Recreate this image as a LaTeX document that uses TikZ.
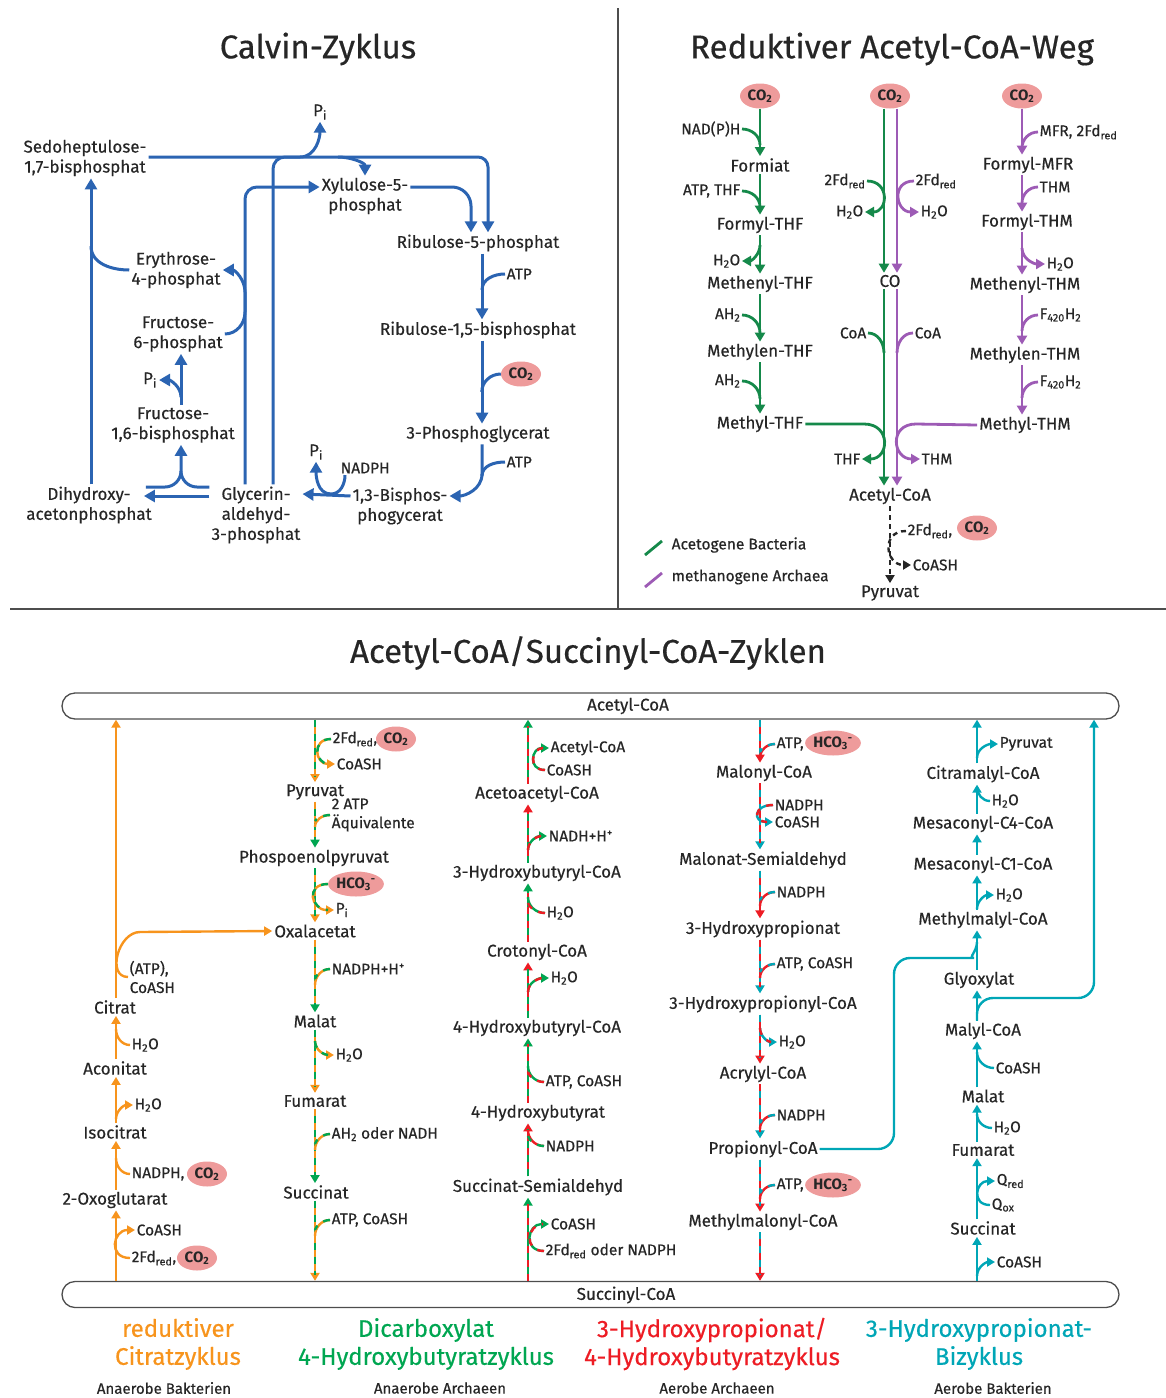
\documentclass[tikz,border=0pt]{standalone}
\usepackage{fontspec}
\setmainfont{Fira Sans}[UprightFeatures={FakeBold=0.45}]
\usetikzlibrary{arrows.meta,shapes.geometric,calc}

\definecolor{calvinblue}{HTML}{2B64B2}
\definecolor{acgreen}{HTML}{15894A}
\definecolor{acpurple}{HTML}{9D5BB5}
\definecolor{cotwopink}{HTML}{EE9B9B}
\definecolor{cycorange}{HTML}{F7941D}
\definecolor{cycgreen}{HTML}{00A651}
\definecolor{cycred}{HTML}{ED1C24}
\definecolor{cyccyan}{HTML}{00A6B6}
\definecolor{framegray}{HTML}{4D4D4D}

\tikzset{
  met/.style={font=\fontsize{17}{20}\selectfont, align=center, inner sep=2pt, text=black!85},
  bmet/.style={font=\fontsize{17}{20}\selectfont, align=center, inner sep=2pt, text=black!85},
  sidelbl/.style={font=\fontsize{15.5}{18}\selectfont, inner sep=1.5pt, text=black!85},
  bside/.style={font=\fontsize{15.5}{19}\selectfont, inner sep=1.5pt, text=black!85},
  ttl/.style={font=\fontsize{33}{38}\selectfont, text=black!85},
  cyc/.style={font=\fontsize{24}{28}\selectfont, align=center},
  org/.style={font=\fontsize{15}{18}\selectfont, text=black!85},
  cotwo/.style={ellipse, fill=cotwopink, inner sep=0pt, minimum width=40pt, minimum height=25pt, font=\fontsize{15}{18}\selectfont\bfseries, text=black!85},
  hco/.style={cotwo, minimum width=52pt},
  cycbar/.style={draw=framegray, line width=1.3pt, rounded corners=13pt, minimum width=1057pt, minimum height=26pt, inner sep=0pt},
  % Calvin
  calv/.style={draw=calvinblue, line width=3pt},
  calvar/.style={calv, -{Triangle[width=12pt,length=11pt]}},
  % Acetyl-CoA-Weg
  ag/.style={draw=acgreen, line width=2.8pt},
  agar/.style={ag, -{Triangle[width=10pt,length=9pt]}},
  ap/.style={draw=acpurple, line width=2.8pt},
  apar/.style={ap, -{Triangle[width=10pt,length=9pt]}},
  dsh/.style={draw=black!85, line width=2.4pt, dash pattern=on 5pt off 4pt},
  dshar/.style={dsh, -{Triangle[width=9pt,length=8pt]}},
  % Zyklen
  tipb/.style={-{Triangle[width=9pt,length=8pt]}},
  dual/.style 2 args={draw=#1, line width=2.4pt, postaction={draw=#2, dash pattern=on 7pt off 7pt, arrows=-, shorten >=6pt}},
  oa/.style={draw=cycorange, line width=2.4pt}, oar/.style={oa, tipb},
  ca/.style={draw=cyccyan, line width=2.4pt}, car/.style={ca, tipb},
  og/.style={dual={cycorange}{cycgreen}}, ogar/.style={og, tipb},
  go/.style={dual={cycgreen}{cycorange}}, goar/.style={go, tipb},
  rg/.style={dual={cycred}{cycgreen}}, rgar/.style={rg, tipb},
  gr/.style={dual={cycgreen}{cycred}}, grar/.style={gr, tipb},
  rc/.style={dual={cycred}{cyccyan}}, rcar/.style={rc, tipb},
  cr/.style={dual={cyccyan}{cycred}}, crar/.style={cr, tipb},
}

\begin{document}
\begin{tikzpicture}[x=1pt,y=1pt]
\useasboundingbox (0,0) rectangle (1166,-1398);

\draw[framegray, line width=1.2pt] (618,-8) -- (618,-609);
\draw[framegray, line width=1.2pt] (10,-609) -- (1166,-609);

% Calvin-Zyklus
\node[ttl] (tcalvin) at (318,-49) {Calvin-Zyklus};
\node[met] (sbp) at (85,-158) {Sedoheptulose-\\1,7-bisphosphat};
\node[met] (pitop) at (320,-112) {P\textsubscript{i}};
\node[met] (xu5p) at (365,-196) {Xylulose-5-\\phosphat};
\node[met] (ru5p) at (478,-243) {Ribulose-5-phosphat};
\node[met] (rubp) at (478,-330) {Ribulose-1,5-bisphosphat};
\node[cotwo] (co2c) at (521,-374) {CO\textsubscript{2}};
\node[met] (pga) at (478,-434) {3-Phosphoglycerat};
\node[met] (bpg) at (400,-506) {1,3-Bisphos-\\phogycerat};
\node[met] (gap) at (256,-515) {Glycerin-\\aldehyd-\\3-phosphat};
\node[met] (dhap) at (89,-505) {Dihydroxy-\\acetonphosphat};
\node[met] (fbp) at (173,-425) {Fructose-\\1,6-bisphosphat};
\node[met] (f6p) at (178,-334) {Fructose-\\6-phosphat};
\node[met] (e4p) at (176,-270) {Erythrose-\\4-phosphat};
\node[met] (pifbp) at (150,-380) {P\textsubscript{i}};
\node[met] (pibpg) at (316,-452) {P\textsubscript{i}};
\node[sidelbl,anchor=west] (nadphc) at (339,-468) {NADPH};
\node[sidelbl,anchor=west] (atpa) at (505,-274) {ATP};
\node[sidelbl,anchor=west] (atpb) at (505,-462) {ATP};
\coordinate (jpi) at (300,-157);
\coordinate (jxu) at (338,-157);

\draw[calvar, rounded corners=10pt] ([yshift=1pt]sbp.east) -- (488,-157) -- ([xshift=10pt]ru5p.north);
\draw[calvar] (jpi) to[out=0,in=-90] (pitop.south);
\draw[calvar] (jxu) to[out=0,in=90] (xu5p.north);
\draw[calv, rounded corners=12pt] ([xshift=17pt]gap.north) -- (273,-157) -- (jpi);
\draw[calvar, rounded corners=12pt] ([xshift=-11pt]gap.north) -- (245,-187) -- ([yshift=9pt]xu5p.west);
\draw[calvar] (f6p.east) to[out=0,in=-90] (245,-312) -- (245,-292) to[out=90,in=0] (e4p.east);
\draw[calv] (e4p.west) to[out=180,in=-90] (91,-246);
\draw[calvar] ([xshift=2pt]dhap.north) -- ([xshift=6pt]sbp.south);
\draw[calvar] ([xshift=8pt]fbp.north) -- ([xshift=3pt]f6p.south);
\draw[calvar] ([xshift=8pt,yshift=8pt]fbp.north) to[out=90,in=0] (pifbp.east);
\draw[calvar] ([yshift=28pt]gap.west) -- (197,-487) to[out=180,in=-90] (181,-471) -- ([xshift=8pt]fbp.south);
\draw[calv] ([xshift=-8pt,yshift=18pt]dhap.east) -- (165,-487) to[out=0,in=-90] (181,-471);
\draw[calvar] ([yshift=19pt]gap.west) -- ([xshift=-10pt,yshift=9pt]dhap.east);
\draw[calvar] ([yshift=10pt]bpg.west) -- ([yshift=21pt]gap.east);
\draw[calvar] ([xshift=6pt]nadphc.south west) to[out=-90,in=0] (331,-494) to[out=180,in=-90] (pibpg.south);
\draw[calvar] ([xshift=4pt]pga.south) -- (482,-474) to[out=-90,in=0] ([yshift=10pt]bpg.east);
\draw[calv] (atpb.west) to[out=180,in=90] ++(-23,-14);
\draw[calvar] ([xshift=4pt]rubp.south) -- ([xshift=4pt]pga.north);
\draw[calv] (co2c.west) to[out=180,in=90] ++(-19,-18);
\draw[calvar] ([xshift=4pt]ru5p.south) -- ([xshift=4pt]rubp.north);
\draw[calv] (atpa.west) to[out=180,in=90] ++(-23,-16);
\draw[calvar] ([yshift=9pt]xu5p.east) -- (452,-187) to[out=0,in=90] (471,-206) -- ([xshift=-7pt]ru5p.north);

% Reduktiver Acetyl-CoA-Weg
\node[ttl] (tacetyl) at (892,-49) {Reduktiver Acetyl-CoA-Weg};
\node[cotwo] (co2g) at (760,-96) {CO\textsubscript{2}};
\node[cotwo] (co2m) at (890,-96) {CO\textsubscript{2}};
\node[cotwo] (co2p) at (1022,-96) {CO\textsubscript{2}};
\node[met] (formiat) at (760,-165) {Formiat};
\node[met] (formthf) at (760,-225) {Formyl-THF};
\node[met] (menthf) at (760,-284) {Methenyl-THF};
\node[met] (mlenthf) at (760,-352) {Methylen-THF};
\node[met] (mthf) at (760,-424) {Methyl-THF};
\node[sidelbl,anchor=east] (nadpha) at (742,-129) {NAD(P)H};
\node[sidelbl,anchor=east] (atpthf) at (742,-191) {ATP, THF};
\node[sidelbl,anchor=east] (wata) at (742,-261) {H\textsubscript{2}O};
\node[sidelbl,anchor=east] (aha) at (742,-315) {AH\textsubscript{2}};
\node[sidelbl,anchor=east] (ahb) at (742,-381) {AH\textsubscript{2}};
\draw[agar] (co2g.south) -- (formiat.north);
\draw[ag] (nadpha.east) to[out=0,in=90] ++(18,-16);
\draw[agar] (formiat.south) -- (formthf.north);
\draw[ag] (atpthf.east) to[out=0,in=90] ++(18,-16);
\draw[agar] (formthf.south) -- (menthf.north);
\draw[agar] ([xshift=18pt,yshift=16pt]wata.east) to[out=-90,in=0] (wata.east);
\draw[agar] (menthf.south) -- (mlenthf.north);
\draw[ag] (aha.east) to[out=0,in=90] ++(18,-18);
\draw[agar] (mlenthf.south) -- (mthf.north);
\draw[ag] (ahb.east) to[out=0,in=90] ++(18,-18);

\node[met] (co) at (890,-281) {CO};
\node[met] (acoa) at (890,-496) {Acetyl-CoA};
\draw[agar] ([xshift=-6pt]co2m.south) -- ([xshift=-6pt]co.north);
\draw[apar] ([xshift=7pt]co2m.south) -- ([xshift=7pt]co.north);
\node[sidelbl,anchor=east] (fdg) at (867,-181) {2Fd\textsubscript{red}};
\node[sidelbl,anchor=east] (watg) at (865,-212) {H\textsubscript{2}O};
\draw[agar] (fdg.east) to[out=0,in=0,looseness=1.9] (watg.east);
\node[sidelbl,anchor=west] (fdp) at (914,-181) {2Fd\textsubscript{red}};
\node[sidelbl,anchor=west] (watp) at (919,-212) {H\textsubscript{2}O};
\draw[apar] (fdp.west) to[out=180,in=180,looseness=1.9] (watp.west);
\draw[agar] ([xshift=-6pt]co.south) -- ([xshift=-6pt]acoa.north);
\draw[apar] ([xshift=7pt]co.south) -- ([xshift=7pt]acoa.north);
\node[sidelbl,anchor=east] (coag) at (868,-333) {CoA};
\draw[ag] (coag.east) to[out=0,in=90] ++(16,-20);
\node[sidelbl,anchor=west] (coap) at (913,-333) {CoA};
\draw[ap] (coap.west) to[out=180,in=90] ++(-16,-20);

\node[met] (fmfr) at (1028,-165) {Formyl-MFR};
\node[met] (fthm) at (1027,-222) {Formyl-THM};
\node[met] (menthm) at (1025,-285) {Methenyl-THM};
\node[met] (mlenthm) at (1025,-355) {Methylen-THM};
\node[met] (mthm) at (1025,-425) {Methyl-THM};
\coordinate (cp) at (1022,0);
\node[sidelbl,anchor=west] (mfr) at (1038,-132) {MFR, 2Fd\textsubscript{red}};
\node[sidelbl,anchor=west] (thma) at (1038,-187) {THM};
\node[sidelbl,anchor=west] (watt) at (1045,-264) {H\textsubscript{2}O};
\node[sidelbl,anchor=west] (fa) at (1038,-315) {F\textsubscript{420}H\textsubscript{2}};
\node[sidelbl,anchor=west] (fb) at (1038,-382) {F\textsubscript{420}H\textsubscript{2}};
\draw[apar] (co2p.south) -- (cp |- fmfr.north);
\draw[ap] (mfr.west) to[out=180,in=90] ++(-16,-16);
\draw[apar] (cp |- fmfr.south) -- (cp |- fthm.north);
\draw[ap] (thma.west) to[out=180,in=90] ++(-16,-16);
\draw[apar] (cp |- fthm.south) -- (cp |- menthm.north);
\draw[apar] ([xshift=-23pt,yshift=16pt]watt.west) to[out=-90,in=180] (watt.west);
\draw[apar] (cp |- menthm.south) -- (cp |- mlenthm.north);
\draw[ap] (fa.west) to[out=180,in=90] ++(-16,-16);
\draw[apar] (cp |- mlenthm.south) -- (cp |- mthm.north);
\draw[ap] (fb.west) to[out=180,in=90] ++(-16,-16);

\node[sidelbl,anchor=east] (thf) at (862,-459) {THF};
\draw[agar] (mthf.east) -- (864,-424) to[out=0,in=0,looseness=2] (thf.east);
\node[sidelbl,anchor=west] (thm) at (920,-459) {THM};
\draw[apar] (mthm.west) -- (916,-424) to[out=180,in=180,looseness=2] (thm.west);

\node[met] (pyra) at (890,-593) {Pyruvat};
\draw[dshar] (acoa.south) -- (pyra.north);
\node[sidelbl,anchor=west] (fdd) at (906,-531) {2Fd\textsubscript{red},};
\node[cotwo] (co2d) at (977,-528) {CO\textsubscript{2}};
\node[sidelbl,anchor=west] (coashd) at (911,-565) {CoASH};
\draw[dshar] (fdd.west) to[out=180,in=180,looseness=1.9] (coashd.west);

\draw[ag] (645,-555) -- (662,-541);
\node[sidelbl,anchor=west] (lega) at (670,-545) {Acetogene Bacteria};
\draw[ap] (645,-587) -- (662,-573);
\node[sidelbl,anchor=west] (legm) at (670,-577) {methanogene Archaea};

% Acetyl-CoA/Succinyl-CoA-Zyklen
\node[ttl] (tcyc) at (588,-653) {Acetyl-CoA/Succinyl-CoA-Zyklen};
\node[cycbar] (acbar) at (590.5,-706) {};
\node[bmet] (acbarl) at (628,-706) {Acetyl-CoA};
\node[cycbar] (scbar) at (590.5,-1294.5) {};
\node[bmet] (scbarl) at (626,-1295) {Succinyl-CoA};
\coordinate (c1) at (116,0);
\coordinate (c2) at (315,0);
\coordinate (c3) at (528,0);
\coordinate (c4) at (760,0);
\coordinate (c5) at (977,0);
\coordinate (c6) at (1094,0);

% reduktiver Citratzyklus
\node[bmet] (oxg) at (115,-1200) {2-Oxoglutarat};
\node[bmet] (icit) at (115,-1132) {Isocitrat};
\node[bmet] (acon) at (115,-1068) {Aconitat};
\node[bmet] (cit) at (115,-1007) {Citrat};
\draw[oar] (c1 |- scbar.north) -- (c1 |- oxg.south);
\node[bside,anchor=west] (fdo) at (130,-1258) {2Fd\textsubscript{red},};
\node[cotwo] (co2o) at (197,-1258) {CO\textsubscript{2}};
\node[bside,anchor=west] (coasho) at (135,-1230) {CoASH};
\draw[oar] (fdo.west) to[out=180,in=180,looseness=2] (coasho.west);
\draw[oar] (c1 |- oxg.north) -- (c1 |- icit.south);
\node[bside,anchor=west] (nadpho) at (130,-1174) {NADPH,};
\node[cotwo] (co2oo) at (207,-1174) {CO\textsubscript{2}};
\draw[oa] (nadpho.west) to[out=180,in=-90] ++(-14,16);
\draw[oar] (c1 |- icit.north) -- (c1 |- acon.south);
\node[bside,anchor=west] (wato) at (133,-1105) {H\textsubscript{2}O};
\draw[oar] ([xshift=-17pt,yshift=-14pt]wato.west) to[out=90,in=180] (wato.west);
\draw[oar] (c1 |- acon.north) -- (c1 |- cit.south);
\node[bside,anchor=west] (watoo) at (130,-1045) {H\textsubscript{2}O};
\draw[oa] (watoo.west) to[out=180,in=-90] ++(-14,16);
\draw[oar] (c1 |- cit.north) -- (c1 |- acbar.south);
\node[bside,anchor=west,align=left] (atpo) at (128,-977) {(ATP),\\CoASH};

% Dicarboxylat/4-Hydroxybutyratzyklus
\node[bmet] (pyrb) at (315,-792) {Pyruvat};
\node[bmet] (pep) at (314,-858) {Phospoenolpyruvat};
\node[bmet] (oaa) at (315,-931) {Oxalacetat};
\node[bmet] (malb) at (315,-1021) {Malat};
\node[bmet] (fumb) at (315,-1101) {Fumarat};
\node[bmet] (sucb) at (316,-1192) {Succinat};
\draw[oar] (atpo.west) to[out=180,in=180,looseness=1.2] (140,-932) -- (oaa.west);
\draw[ogar] (c2 |- acbar.south) -- (c2 |- pyrb.north);
\node[bside,anchor=west] (fdb) at (331,-739) {2Fd\textsubscript{red},};
\node[cotwo] (co2b) at (396,-739) {CO\textsubscript{2}};
\node[bside,anchor=west] (coashb) at (335,-764) {CoASH};
\draw[ogar] (fdb.west) to[out=180,in=180,looseness=2] (coashb.west);
\draw[goar] (c2 |- pyrb.south) -- (c2 |- pep.north);
\node[bside,anchor=west,align=left] (atpb2) at (330,-815) {2 ATP\\Äquivalente};
\draw[og] (atpb2.west) to[out=180,in=90] ++(-15,-12);
\draw[ogar] (c2 |- pep.south) -- (c2 |- oaa.north);
\node[hco] (hcob) at (356,-884) {HCO\textsubscript{3}\textsuperscript{-}};
\node[bside,anchor=west] (pib) at (334,-910) {P\textsubscript{i}};
\draw[ogar] (hcob.west) to[out=180,in=180,looseness=2.2] (pib.west);
\draw[goar] (c2 |- oaa.south) -- (c2 |- malb.north);
\node[bside,anchor=west] (nadphb) at (330,-969) {NADPH+H\textsuperscript{+}};
\draw[og] (nadphb.west) to[out=180,in=90] ++(-15,-16);
\draw[ogar] (c2 |- malb.south) -- (c2 |- fumb.north);
\node[bside,anchor=west] (watb) at (334,-1055) {H\textsubscript{2}O};
\draw[ogar] ([xshift=-19pt,yshift=14pt]watb.west) to[out=-90,in=180] (watb.west);
\draw[goar] (c2 |- fumb.south) -- (c2 |- sucb.north);
\node[bside,anchor=west] (ahb2) at (330,-1134) {AH\textsubscript{2} oder NADH};
\draw[og] (ahb2.west) to[out=180,in=90] ++(-15,-16);
\draw[ogar] (c2 |- sucb.south) -- (c2 |- scbar.north);
\node[bside,anchor=west] (atpcb) at (330,-1220) {ATP, CoASH};
\draw[og] (atpcb.west) to[out=180,in=90] ++(-15,-16);

% 3-Hydroxypropionat/4-Hydroxybutyratzyklus
\node[bmet] (ssa) at (538,-1187) {Succinat-Semialdehyd};
\node[bmet] (hbt) at (538,-1113) {4-Hydroxybutyrat};
\node[bmet] (hbcoa) at (537,-1028) {4-Hydroxybutyryl-CoA};
\node[bmet] (crot) at (537,-952) {Crotonyl-CoA};
\node[bmet] (hbucoa) at (537,-873) {3-Hydroxybutyryl-CoA};
\node[bmet] (aacoa) at (537,-794) {Acetoacetyl-CoA};
\draw[grar] (c3 |- scbar.north) -- (c3 |- ssa.south);
\node[bside,anchor=west] (fdc) at (544,-1251) {2Fd\textsubscript{red} oder NADPH};
\node[bside,anchor=west] (coashc) at (549,-1224) {CoASH};
\draw[grar] (fdc.west) to[out=180,in=180,looseness=2] (coashc.west);
\draw[rgar] (c3 |- ssa.north) -- (c3 |- hbt.south);
\node[bside,anchor=west] (nadphcc) at (544,-1146) {NADPH};
\draw[rg] (nadphcc.west) to[out=180,in=-90] ++(-16,16);
\draw[grar] (c3 |- hbt.north) -- (c3 |- hbcoa.south);
\node[bside,anchor=west] (atpcc) at (544,-1082) {ATP, CoASH};
\draw[gr] (atpcc.west) to[out=180,in=-90] ++(-16,16);
\draw[rgar] (c3 |- hbcoa.north) -- (c3 |- crot.south);
\node[bside,anchor=west] (watc) at (549,-978) {H\textsubscript{2}O};
\draw[grar] ([xshift=-21pt,yshift=-14pt]watc.west) to[out=90,in=180] (watc.west);
\draw[grar] (c3 |- crot.north) -- (c3 |- hbucoa.south);
\node[bside,anchor=west] (watcc) at (545,-913) {H\textsubscript{2}O};
\draw[gr] (watcc.west) to[out=180,in=-90] ++(-17,16);
\draw[rgar] (c3 |- hbucoa.north) -- (c3 |- aacoa.south);
\node[bside,anchor=west] (nadhc) at (547,-836) {NADH+H\textsuperscript{+}};
\draw[grar] ([xshift=-19pt,yshift=-14pt]nadhc.west) to[out=90,in=180] (nadhc.west);
\draw[grar] (c3 |- aacoa.north) -- (c3 |- acbar.south);
\node[bside,anchor=west] (coashcc) at (545,-770) {CoASH};
\node[bside,anchor=west] (acoac) at (549,-748) {Acetyl-CoA};
\draw[grar] (coashcc.west) to[out=180,in=180,looseness=2] (acoac.west);

% 3-Hydroxypropionat-Bizyklus, erster Teil
\node[bmet] (malcoa) at (764,-773) {Malonyl-CoA};
\node[bmet] (msa) at (763,-860) {Malonat-Semialdehyd};
\node[bmet] (hp) at (763,-929) {3-Hydroxypropionat};
\node[bmet] (hpcoa) at (763,-1004) {3-Hydroxypropionyl-CoA};
\node[bmet] (acr) at (763,-1074) {Acrylyl-CoA};
\node[bmet] (prop) at (763,-1149) {Propionyl-CoA};
\node[bmet] (mmcoa) at (763,-1222) {Methylmalonyl-CoA};
\draw[rcar] (c4 |- acbar.south) -- (c4 |- malcoa.north);
\node[bside,anchor=west] (atpd) at (775,-744) {ATP,};
\node[hco] (hcod) at (833,-743) {HCO\textsubscript{3}\textsuperscript{-}};
\draw[rc] (atpd.west) to[out=180,in=90] ++(-15,-14);
\draw[crar] (c4 |- malcoa.south) -- (c4 |- msa.north);
\node[bside,anchor=west] (nadphd) at (773,-805) {NADPH};
\node[bside,anchor=west] (coashd2) at (773,-822) {CoASH};
\draw[crar] (nadphd.west) to[out=180,in=180,looseness=3] (coashd2.west);
\draw[rcar] (c4 |- msa.south) -- (c4 |- hp.north);
\node[bside,anchor=west] (nadphdd) at (775,-892) {NADPH};
\draw[rc] (nadphdd.west) to[out=180,in=90] ++(-15,-14);
\draw[crar] (c4 |- hp.south) -- (c4 |- hpcoa.north);
\node[bside,anchor=west] (atpcd) at (775,-964) {ATP, CoASH};
\draw[rc] (atpcd.west) to[out=180,in=90] ++(-15,-14);
\draw[rcar] (c4 |- hpcoa.south) -- (c4 |- acr.north);
\node[bside,anchor=west] (watd) at (777,-1042) {H\textsubscript{2}O};
\draw[crar] ([xshift=-17pt,yshift=14pt]watd.west) to[out=-90,in=180] (watd.west);
\draw[crar] (c4 |- acr.south) -- (c4 |- prop.north);
\node[bside,anchor=west] (nadphd3) at (775,-1115) {NADPH};
\draw[rc] (nadphd3.west) to[out=180,in=90] ++(-15,-14);
\draw[rcar] (c4 |- prop.south) -- (c4 |- mmcoa.north);
\node[bside,anchor=west] (atpd2) at (775,-1185) {ATP,};
\node[hco] (hcod2) at (833,-1185) {HCO\textsubscript{3}\textsuperscript{-}};
\draw[rc] (atpd2.west) to[out=180,in=90] ++(-15,-14);
\draw[rcar] (c4 |- mmcoa.south) -- (c4 |- scbar.north);

% 3-Hydroxypropionat-Bizyklus, zweiter Teil
\node[bmet] (succe) at (983,-1228) {Succinat};
\node[bmet] (fume) at (983,-1150) {Fumarat};
\node[bmet] (male) at (983,-1096) {Malat};
\node[bmet] (malyl) at (983,-1031) {Malyl-CoA};
\node[bmet] (glyox) at (979,-980) {Glyoxylat};
\node[bmet] (mmalyl) at (983,-920) {Methylmalyl-CoA};
\node[bmet] (mcone) at (983,-865) {Mesaconyl-C1-CoA};
\node[bmet] (mcfour) at (983,-824) {Mesaconyl-C4-CoA};
\node[bmet] (citra) at (983,-774) {Citramalyl-CoA};
\draw[car] (c5 |- scbar.north) -- (c5 |- succe.south);
\node[bside,anchor=west] (coashe) at (995,-1262) {CoASH};
\draw[car] ([xshift=-18pt,yshift=-14pt]coashe.west) to[out=90,in=180] (coashe.west);
\draw[car] (c5 |- succe.north) -- (c5 |- fume.south);
\node[bside,anchor=west] (qox) at (990,-1205) {Q\textsubscript{ox}};
\node[bside,anchor=west] (qred) at (995,-1181) {Q\textsubscript{red}};
\draw[car] (qox.west) to[out=180,in=180,looseness=2] (qred.west);
\draw[car] (c5 |- fume.north) -- (c5 |- male.south);
\node[bside,anchor=west] (wate) at (992,-1128) {H\textsubscript{2}O};
\draw[ca] (wate.west) to[out=180,in=-90] ++(-15,14);
\draw[car] (c5 |- male.north) -- (c5 |- malyl.south);
\node[bside,anchor=west] (coashee) at (994,-1068) {CoASH};
\draw[ca] (coashee.west) to[out=180,in=-90] ++(-17,16);
\draw[car] (c5 |- malyl.north) -- (c5 |- glyox.south);
\draw[car, rounded corners=16pt] (c5 |- malyl.north) |- (1094,-998) -- (c6 |- acbar.south);
\draw[car] (c5 |- glyox.north) -- (c5 |- mmalyl.south);
\draw[ca, rounded corners=16pt] (prop.east) -| (894,-958) -- (958,-958) to[out=0,in=-90] (977,-942);
\draw[car] (c5 |- mmalyl.north) -- (c5 |- mcone.south);
\node[bside,anchor=west] (watee) at (994,-895) {H\textsubscript{2}O};
\draw[car] ([xshift=-17pt,yshift=-14pt]watee.west) to[out=90,in=180] (watee.west);
\draw[car] (c5 |- mcone.north) -- (c5 |- mcfour.south);
\draw[car] (c5 |- mcfour.north) -- (c5 |- citra.south);
\node[bside,anchor=west] (wateee) at (990,-801) {H\textsubscript{2}O};
\draw[ca] (wateee.west) to[out=180,in=-90] ++(-13,14);
\draw[car] (c5 |- citra.north) -- (c5 |- acbar.south);
\node[bside,anchor=west] (pyre) at (998,-744) {Pyruvat};
\draw[car] ([xshift=-21pt,yshift=-14pt]pyre.west) to[out=90,in=180] (pyre.west);

% Namen der Zyklen
\node[cyc, text=cycorange] (ncit) at (178,-1344) {reduktiver\\Citratzyklus};
\node[cyc, text=cycgreen] (ndic) at (426,-1344) {Dicarboxylat\\4-Hydroxybutyratzyklus};
\node[cyc, text=cycred] (nhph) at (712,-1344) {3-Hydroxypropionat/\\4-Hydroxybutyratzyklus};
\node[cyc, text=cyccyan] (nbi) at (979,-1344) {3-Hydroxypropionat-\\Bizyklus};
\node[org] (orga) at (164,-1388) {Anaerobe Bakterien};
\node[org] (orgb) at (440,-1388) {Anaerobe Archaeen};
\node[org] (orgc) at (717,-1388) {Aerobe Archaeen};
\node[org] (orgd) at (993,-1388) {Aerobe Bakterien};
\end{tikzpicture}
\end{document}
